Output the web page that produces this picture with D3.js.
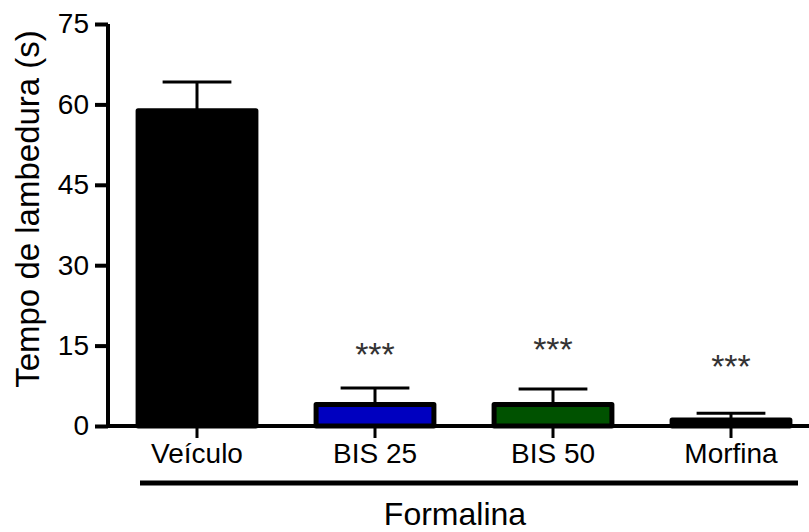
<!DOCTYPE html>
<html>
<head>
<meta charset="utf-8">
<script src="https://cdn.jsdelivr.net/npm/d3@7"></script>
<style>
  body { margin: 0; background: #fff; }
  svg { display: block; font-family: Arial, "Liberation Sans", sans-serif; }
</style>
</head>
<body>
<svg class="svg"></svg>
<script>
const groups = ['Veículo', 'BIS 25', 'BIS 50', 'Morfina'];
const means = [58.8, 4.0, 4.0, 1.1];
const sems = [5.4, 3.1, 2.9, 1.3];
const colors = ['#000000', '#0000c0', '#005200', '#000000'];
const stars = ['', '***', '***', '***'];
const starLevels = [0, 11.2, 12.1, 9.0];
const yTicks = [0, 15, 30, 45, 60, 75];

const width = 809;
const height = 532;
const margin = { left: 108, top: 24, bottom: 106 };
const font = 'Arial, "Liberation Sans", sans-serif';

const svg = d3.select('.svg')
  .attr('width', width)
  .attr('height', height);

const y = d3.scaleLinear()
  .domain([0, 75])
  .range([height - margin.bottom, margin.top]);

const x = d3.scaleBand()
  .domain(groups)
  .range([margin.left, 820])
  .paddingInner(0.31)
  .paddingOuter(0.155);

const bars = groups.map((g, i) => ({
  g, mean: means[i], sem: sems[i], color: colors[i], star: stars[i], starAt: starLevels[i]
}));

// error bars (drawn first so bars sit on top)
const err = svg.append('g')
  .selectAll('g')
  .data(bars)
  .join('g');

err.append('line')
  .attr('x1', d => x(d.g) + x.bandwidth() / 2)
  .attr('x2', d => x(d.g) + x.bandwidth() / 2)
  .attr('y1', d => y(d.mean))
  .attr('y2', d => y(d.mean + d.sem))
  .attr('stroke', '#000')
  .attr('stroke-width', 3);

err.append('line')
  .attr('x1', d => x(d.g) + x.bandwidth() * 0.22)
  .attr('x2', d => x(d.g) + x.bandwidth() * 0.78)
  .attr('y1', d => y(d.mean + d.sem))
  .attr('y2', d => y(d.mean + d.sem))
  .attr('stroke', '#000')
  .attr('stroke-width', 3);

svg.append('g')
  .selectAll('rect')
  .data(bars)
  .join('rect')
  .attr('x', d => x(d.g) + 2.5)
  .attr('width', x.bandwidth() - 5)
  .attr('y', d => y(d.mean))
  .attr('height', d => y(0) - y(d.mean))
  .attr('fill', d => d.color)
  .attr('stroke', '#000')
  .attr('stroke-width', 5)
  .attr('stroke-linejoin', 'round');

svg.append('g')
  .selectAll('text')
  .data(bars.filter(d => d.star))
  .join('text')
  .attr('x', d => x(d.g) + x.bandwidth() / 2)
  .attr('y', d => y(d.starAt))
  .attr('text-anchor', 'middle')
  .attr('font-size', 34)
  .attr('fill', '#333')
  .text(d => d.star);

// y axis
const yAxis = svg.append('g')
  .attr('transform', `translate(${margin.left},0)`)
  .call(d3.axisLeft(y).tickValues(yTicks).tickSize(13).tickPadding(6));
yAxis.select('.domain')
  .attr('d', `M0,${y(75)}V${y(0) + 2}`)
  .attr('stroke-width', 4);
yAxis.selectAll('.tick line').attr('stroke-width', 4);
yAxis.selectAll('.tick text')
  .attr('font-size', 28)
  .attr('fill', '#000')
  .attr('font-family', font);

// x axis
const xAxis = svg.append('g')
  .attr('transform', `translate(0,${y(0)})`)
  .call(d3.axisBottom(x).tickSize(12).tickPadding(5));
xAxis.select('.domain')
  .attr('d', `M${margin.left - 2},0H${width}`)
  .attr('stroke-width', 4);
xAxis.selectAll('.tick line').attr('stroke-width', 3);
xAxis.selectAll('.tick text')
  .attr('font-size', 28)
  .attr('fill', '#000')
  .attr('font-family', font);

// group bracket
svg.append('line')
  .attr('x1', 140)
  .attr('x2', 798)
  .attr('y1', 483)
  .attr('y2', 483)
  .attr('stroke', '#000')
  .attr('stroke-width', 5);

svg.append('text')
  .attr('x', 455)
  .attr('y', 525)
  .attr('text-anchor', 'middle')
  .attr('font-size', 32)
  .text('Formalina');

svg.append('text')
  .attr('transform', 'translate(39,209) rotate(-90)')
  .attr('text-anchor', 'middle')
  .attr('font-size', 33)
  .text('Tempo de lambedura (s)');
</script>
</body>
</html>
